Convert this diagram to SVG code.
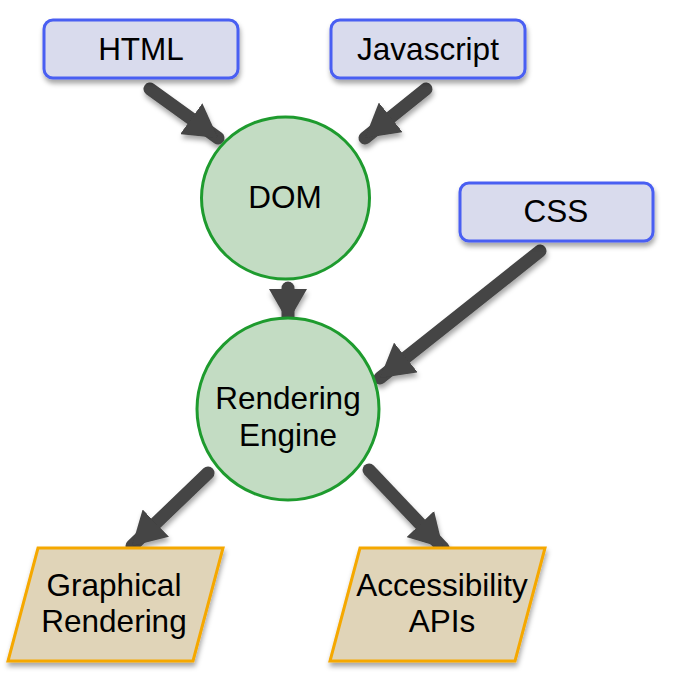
<svg xmlns="http://www.w3.org/2000/svg" width="688" height="700" viewBox="0 0 688 700">
<defs>
<filter id="sh" x="-20%" y="-20%" width="140%" height="150%">
<feDropShadow dx="1" dy="4" stdDeviation="2.5" flood-color="#000" flood-opacity="0.35"/>
</filter>
<marker id="ah" markerUnits="userSpaceOnUse" markerWidth="38" markerHeight="38" viewBox="0 0 38 38" refX="33" refY="19" orient="auto">
<path d="M0,0 L33,19 L0,38 Z" fill="#444"/>
</marker>
<style>
.box{fill:#d9dbed;stroke:#4a5ef2;stroke-width:3}
.circ{fill:#c3dcc3;stroke:#1e9b2e;stroke-width:3}
.para{fill:#e0d4b8;stroke:#f5a800;stroke-width:3}
.t{font-family:"Liberation Sans",Arial,sans-serif;font-size:31.5px;fill:#000;text-anchor:middle}
.c line{stroke:#444;stroke-width:13;stroke-linecap:round}
</style>
</defs>
<rect width="688" height="700" fill="#fff"/>
<g class="c" id="connectors" filter="url(#sh)">
<line x1="150" y1="89" x2="218" y2="138" marker-end="url(#ah)"/>
<line x1="426" y1="89" x2="365" y2="138" marker-end="url(#ah)"/>
<line x1="288" y1="288" x2="288" y2="322" marker-end="url(#ah)"/>
<line x1="540" y1="251" x2="380" y2="378" marker-end="url(#ah)"/>
<line x1="208" y1="473" x2="132" y2="546" marker-end="url(#ah)"/>
<line x1="369" y1="470" x2="443" y2="548" marker-end="url(#ah)"/>
</g>
<g id="html"><rect class="box" x="44" y="20" width="194" height="58" rx="9" filter="url(#sh)"/><text class="t" x="141" y="60">HTML</text></g>
<g id="javascript"><rect class="box" x="331" y="20" width="194" height="58" rx="9" filter="url(#sh)"/><text class="t" x="428" y="60">Javascript</text></g>
<g id="css"><rect class="box" x="460" y="183" width="193" height="58" rx="9" filter="url(#sh)"/><text class="t" x="556" y="222">CSS</text></g>
<g id="dom"><ellipse class="circ" cx="285.5" cy="198" rx="84" ry="81"/><text class="t" x="285" y="208">DOM</text></g>
<g id="engine"><circle class="circ" cx="288" cy="409" r="91"/><text class="t" x="288" y="409">Rendering</text><text class="t" x="288" y="446">Engine</text></g>
<g id="graphical"><polygon class="para" points="38,548 223,548 193,661 8,661" filter="url(#sh)"/><text class="t" x="114" y="596">Graphical</text><text class="t" x="114" y="632">Rendering</text></g>
<g id="accessibility"><polygon class="para" points="360,548 545,548 515,661 330,661" filter="url(#sh)"/><text class="t" x="442" y="596">Accessibility</text><text class="t" x="442" y="632">APIs</text></g>
</svg>
